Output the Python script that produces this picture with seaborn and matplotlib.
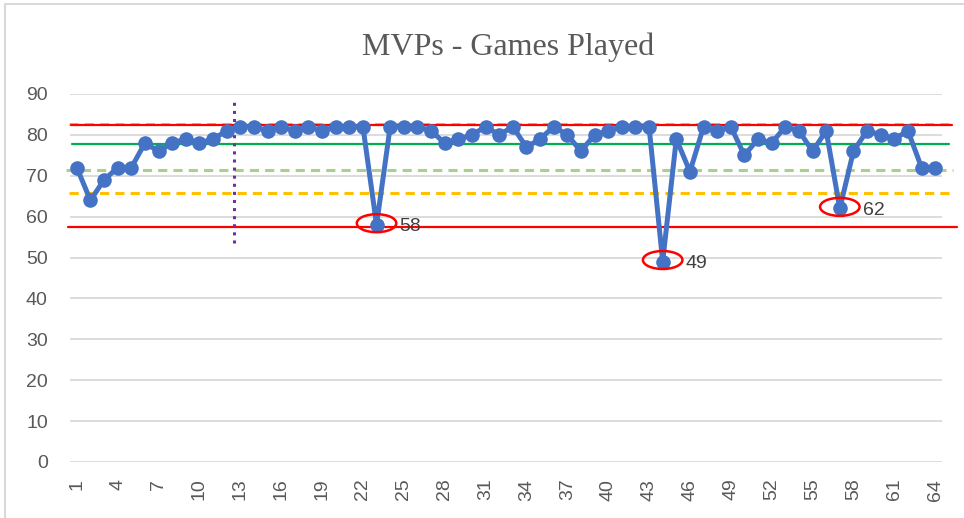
import matplotlib
matplotlib.use("Agg")
import matplotlib.pyplot as plt
from matplotlib.patches import Ellipse, Rectangle
import numpy as np
import pandas as pd
import seaborn as sns

# games played by each MVP, in order
mvp_no = list(range(1, 65))
games = [72, 64, 69, 72, 72, 78, 76, 78, 79, 78, 79, 81, 82, 82, 81, 82,
         81, 82, 81, 82, 82, 82, 58, 82, 82, 82, 81, 78, 79, 80, 82, 80,
         82, 77, 79, 82, 80, 76, 80, 81, 82, 82, 82, 49, 79, 71, 82, 81,
         82, 75, 79, 78, 82, 81, 76, 81, 62, 76, 81, 80, 79, 81, 72, 72]

# reference lines (level, colour, style)
ref_levels = [82.6, 82.4, 77.7, 71.4, 65.9, 57.4]
ref_colors = ["#FFC000", "#FF0000", "#00B050", "#A9D18E", "#FFC000", "#FF0000"]
ref_styles = ["--", "-", "-", "--", "--", "-"]
ref_x0 = [0.45, 0.6, 0.65, 0.2, 0.45, 0.35]
ref_x1 = [65.2, 65.2, 65.0, 65.3, 65.3, 65.6]

divider_x = 12.5
divider_y = (53.6, 88.2)

outliers = [23, 44, 57]

df = pd.DataFrame({"MVP": mvp_no, "Games": games})

sns.set_theme(style="white")
plt.rcParams["font.family"] = ["Liberation Sans", "DejaVu Sans"]

fig = plt.figure(figsize=(9.64, 5.18), dpi=100)
ax = fig.add_axes([70 / 964, 56 / 518, 872 / 964, 368 / 518])

ax.set_ylim(0, 90)
ax.set_xlim(0.5, 64.5)
ax.set_yticks(range(0, 91, 10))
ax.yaxis.grid(True, color="#D9D9D9", linewidth=1.3)
ax.set_axisbelow(True)
for s in ax.spines.values():
    s.set_visible(False)

for lvl, c, ls, x0, x1 in zip(ref_levels, ref_colors, ref_styles, ref_x0, ref_x1):
    lw = 2.2 if ls == "--" else 1.6
    ax.plot([x0, x1], [lvl, lvl], color=c, linestyle=ls, linewidth=lw,
            dashes=(3, 2) if ls == "--" else (None, None), clip_on=False, zorder=1)

ax.plot([divider_x, divider_x], divider_y, color="#7030A0", linestyle=":",
        linewidth=2.2, zorder=1)

sns.lineplot(data=df, x="MVP", y="Games", ax=ax, color="#4472C4", linewidth=3.6,
             marker="o", markersize=10.5, markeredgewidth=0, zorder=3)

for n in outliers:
    v = games[n - 1]
    ax.add_patch(Ellipse((n, v + 0.4), 2.9, 4.4, fill=False, edgecolor="#FF0000",
                         linewidth=1.8, zorder=4))
    ax.text(n + 1.7, v - 0.4, str(v), fontsize=14, color="#404040",
            ha="left", va="center", zorder=5)

ax.set_xticks(mvp_no[::3])
ax.set_xticklabels([str(m) for m in mvp_no[::3]], rotation=90)
ax.tick_params(axis="x", length=0, pad=12, labelsize=14, labelcolor="#595959")
ax.tick_params(axis="y", length=0, pad=16, labelsize=14, labelcolor="#595959")
ax.set_xlabel("")
ax.set_ylabel("")

fig.text(508 / 964, 1 - 47 / 518, "MVPs - Games Played", ha="center", va="center",
         fontsize=23, color="#595959", family="Liberation Serif")

fig.patches.append(Rectangle((5 / 964, -0.1), 1.1, 1.1 - 4.5 / 518, transform=fig.transFigure,
                             fill=False, edgecolor="#D9D9D9", linewidth=1.5))

fig.savefig("out.png", dpi=100)
